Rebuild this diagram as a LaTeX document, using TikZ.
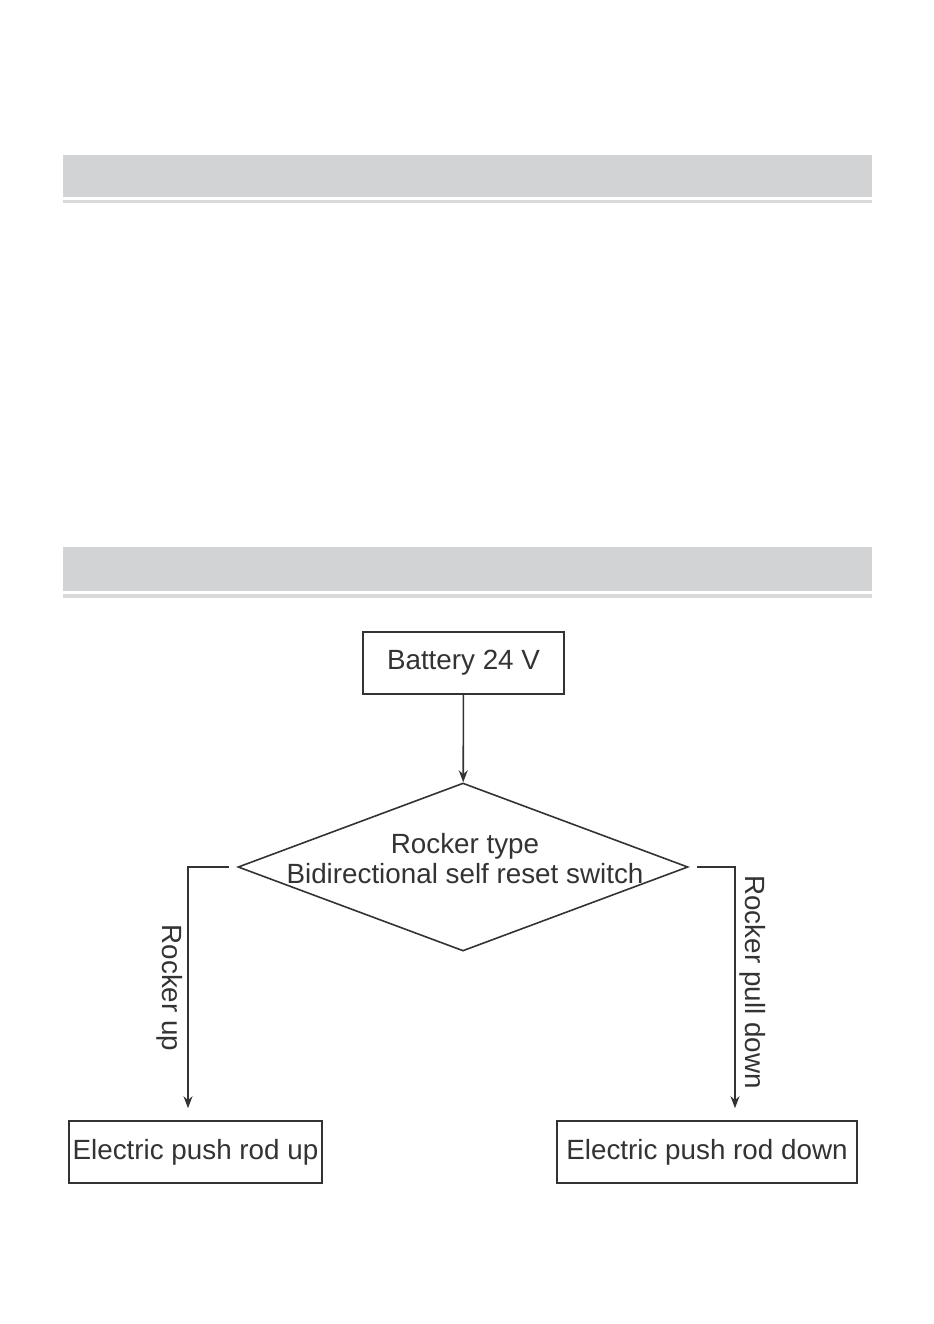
\documentclass[tikz,border=0pt]{standalone}
\usepackage{fontspec}
\setmainfont{Liberation Sans}
\usetikzlibrary{shapes.geometric,arrows.meta}
\definecolor{barfill}{RGB}{210,211,213}
\definecolor{barline}{RGB}{217,217,217}
\definecolor{ink}{RGB}{51,51,51}
\tikzset{
    box/.style={draw=ink, line width=0.8pt, text=ink, minimum height=31pt, inner xsep=1pt},
    decision/.style={draw=ink, line width=0.8pt, diamond, minimum width=225pt, minimum height=84pt, inner sep=0pt},
    flow/.style={draw=ink, line width=0.8pt, -{Stealth[length=6pt,width=4.5pt]}},
    lbl/.style={text=ink, font=\fontsize{13.9}{15}\selectfont}
}
\begin{document}
\begin{tikzpicture}[x=0.5pt, y=-0.5pt, font=\fontsize{13.9}{15}\selectfont]
    \useasboundingbox (0,0) rectangle (933,1324);

    % Header bars
    \fill[barfill] (63,155) rectangle (872,197);
    \fill[barline] (63,200) rectangle (872,203);
    \fill[barfill] (63,547) rectangle (872,591);
    \fill[barline] (63,594) rectangle (872,598);

    % Battery and switch
    \node[box, minimum width=100.5pt] (battery) at (463.5,663) {Battery 24 V};
    \node[decision] (switch) at (463,867) {};
    \node[lbl, align=center] (switchtext) at (465,859) {Rocker type\\Bidirectional self reset switch};
    \draw[flow] (battery) -- (switch);

    % Push rod boxes
    \node[box, minimum width=126.5pt] (pushup) at (195.5,1152) {Electric push rod up};
    \node[box, minimum width=150pt] (pushdown) at (707,1152) {Electric push rod down};

    % Branches
    \coordinate (upbend) at (188,867);
    \coordinate (downbend) at (735,867);
    \draw[flow, shorten >=6pt] ([xshift=-4pt]switch.west) -- (upbend) -- (upbend |- pushup.north);
    \draw[flow, shorten >=6pt] ([xshift=4pt]switch.east) -- (downbend) -- (downbend |- pushdown.north);

    % Branch labels
    \node[lbl, rotate=-90] (uplabel) at (170,988) {Rocker up};
    \node[lbl, rotate=-90] (downlabel) at (753,982) {Rocker pull down};
\end{tikzpicture}
\end{document}
